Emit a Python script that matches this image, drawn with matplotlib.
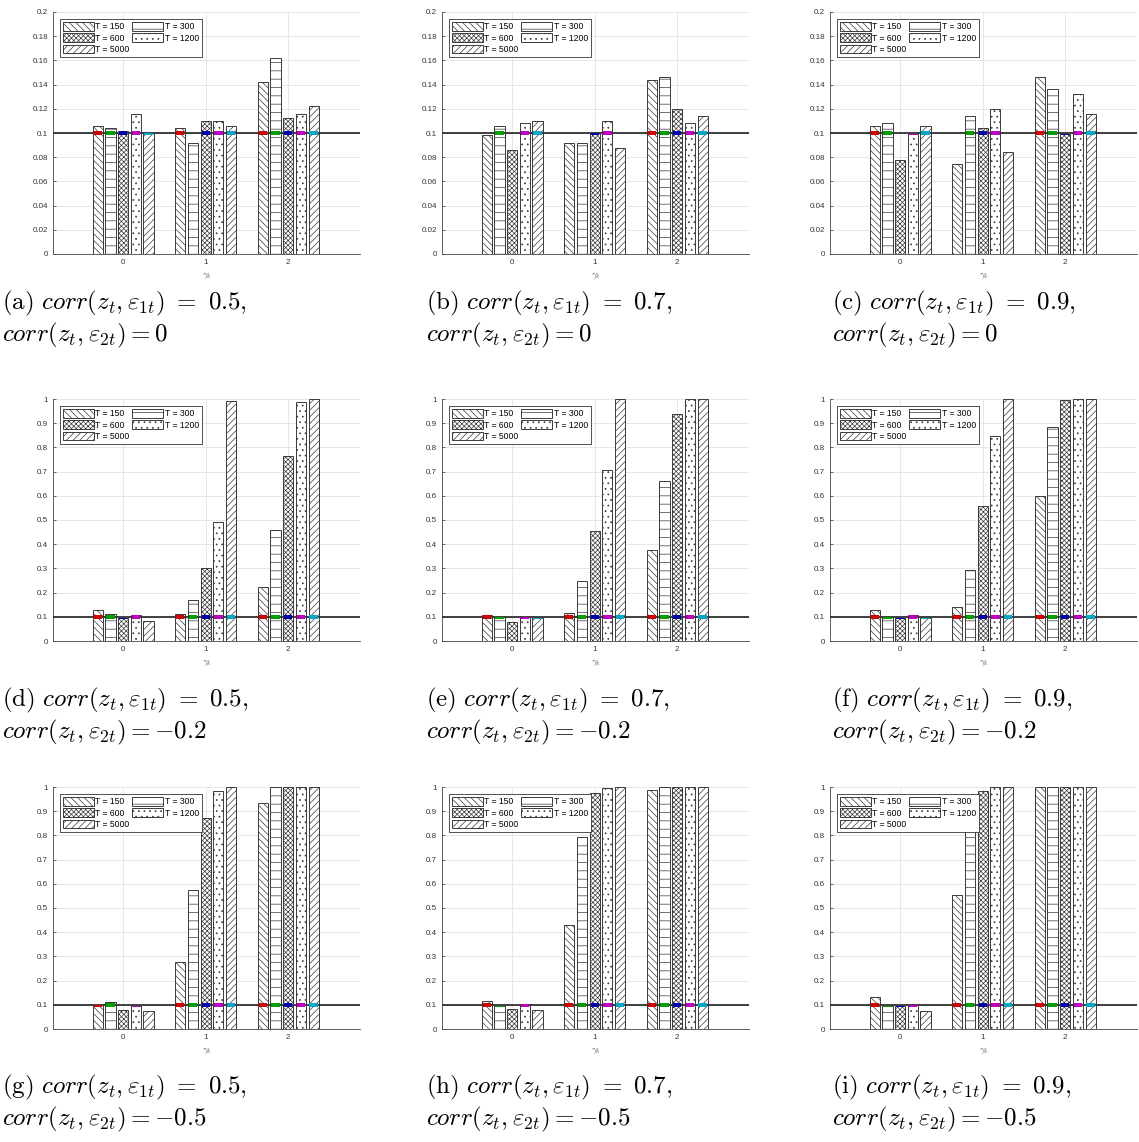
import numpy as np
import matplotlib
matplotlib.use('Agg')
import matplotlib.pyplot as plt

plt.rcParams['mathtext.fontset'] = 'cm'
plt.rcParams['hatch.linewidth'] = 0.5
plt.rcParams['font.family'] = ['Liberation Sans', 'DejaVu Sans']

# ---------------- data ----------------
groups = [0, 1, 2]
series_labels = ['T = 150', 'T = 300', 'T = 600', 'T = 1200', 'T = 5000']
nominal_level = 0.1

# rows = gamma_k groups (0, 1, 2); columns = T = 150, 300, 600, 1200, 5000
panel_a = [[0.106, 0.104, 0.102, 0.116, 0.100],
           [0.104, 0.092, 0.110, 0.110, 0.106],
           [0.142, 0.162, 0.112, 0.116, 0.122]]
panel_b = [[0.098, 0.106, 0.086, 0.108, 0.110],
           [0.092, 0.092, 0.100, 0.110, 0.088],
           [0.144, 0.146, 0.120, 0.108, 0.114]]
panel_c = [[0.106, 0.108, 0.078, 0.0995, 0.106],
           [0.074, 0.114, 0.104, 0.120, 0.084],
           [0.146, 0.136, 0.0995, 0.132, 0.116]]
panel_d = [[0.128, 0.111, 0.095, 0.107, 0.083],
           [0.111, 0.168, 0.300, 0.490, 0.993],
           [0.224, 0.457, 0.765, 0.988, 1.000]]
panel_e = [[0.109, 0.099, 0.080, 0.098, 0.095],
           [0.116, 0.246, 0.454, 0.708, 1.000],
           [0.375, 0.660, 0.937, 1.000, 1.000]]
panel_f = [[0.128, 0.099, 0.094, 0.106, 0.094],
           [0.140, 0.294, 0.557, 0.849, 1.000],
           [0.601, 0.883, 0.996, 1.000, 1.000]]
panel_g = [[0.098, 0.110, 0.079, 0.096, 0.074],
           [0.278, 0.576, 0.870, 0.985, 1.000],
           [0.932, 1.000, 1.000, 1.000, 1.000]]
panel_h = [[0.114, 0.095, 0.083, 0.102, 0.077],
           [0.430, 0.793, 0.974, 0.997, 1.000],
           [0.988, 1.000, 1.000, 1.000, 1.000]]
panel_i = [[0.131, 0.096, 0.094, 0.098, 0.076],
           [0.555, 0.900, 0.982, 1.000, 1.000],
           [1.000, 1.000, 1.000, 1.000, 1.000]]

panels = [panel_a, panel_b, panel_c, panel_d, panel_e, panel_f, panel_g, panel_h, panel_i]
panel_tags = ['(a)', '(b)', '(c)', '(d)', '(e)', '(f)', '(g)', '(h)', '(i)']
corr1_values = ['0.5', '0.7', '0.9', '0.5', '0.7', '0.9', '0.5', '0.7', '0.9']
corr2_values = ['0', '0', '0', '-0.2', '-0.2', '-0.2', '-0.5', '-0.5', '-0.5']
ytick_small = [0, 0.02, 0.04, 0.06, 0.08, 0.1, 0.12, 0.14, 0.16, 0.18, 0.2]
ytick_small_labels = ['0', '0.02', '0.04', '0.06', '0.08', '0.1', '0.12', '0.14', '0.16', '0.18', '0.2']
ytick_large = [0, 0.1, 0.2, 0.3, 0.4, 0.5, 0.6, 0.7, 0.8, 0.9, 1.0]
ytick_large_labels = ['0', '0.1', '0.2', '0.3', '0.4', '0.5', '0.6', '0.7', '0.8', '0.9', '1']

# ---------------- styles ----------------
hatches = ['\\\\\\\\\\', '--', 'xxxxxxx', '...', '/////']
marker_colors = ['#d40000', '#00a000', '#0000b0', '#c000c0', '#00a8c8']
edge = '#3a3a3a'

W, H = 1139, 1142
fig = plt.figure(figsize=(W / 100, H / 100), dpi=100)

col_left = [53, 442, 830]
row_top = [12, 399, 787]
ax_w, ax_h = 307, 242
cap_x = [2, 426, 832]
cap_y = [303, 700, 1087]
line_gap = 32

offsets = [(i - 2) * 0.154 for i in range(5)]
bar_w = 0.123
mark_w = 0.10

for p, vals in enumerate(panels):
    r, c = divmod(p, 3)
    ax = fig.add_axes([col_left[c] / W, 1 - (row_top[r] + ax_h) / H, ax_w / W, ax_h / H])
    data = np.array(vals).T  # series x groups
    ymax = 0.2 if r == 0 else 1.0
    handles = []
    for s in range(5):
        xs = np.array(groups) + offsets[s]
        b = ax.bar(xs, data[s], width=bar_w, facecolor='white', edgecolor=edge,
                   linewidth=0.7, hatch=hatches[s], label=series_labels[s], zorder=2)
        handles.append(b)
    ax.axhline(nominal_level, color='#303030', lw=1.3, zorder=3)
    d = ymax * 0.009
    for s in range(5):
        xs = np.array(groups) + offsets[s]
        lo = nominal_level - d
        hi = np.minimum(nominal_level + d, data[s])
        h = np.clip(hi - lo, 0, None)
        ax.bar(xs, h, bottom=lo, width=mark_w, color=marker_colors[s], linewidth=0, zorder=4)
    ax.set_xlim(-0.85, 2.87)
    ax.set_ylim(0, ymax)
    ax.set_xticks(groups)
    ax.set_xticklabels([str(g) for g in groups])
    if r == 0:
        ax.set_yticks(ytick_small)
        ax.set_yticklabels(ytick_small_labels)
    else:
        ax.set_yticks(ytick_large)
        ax.set_yticklabels(ytick_large_labels)
    ax.tick_params(labelsize=5.8, colors='#333333', length=2, width=0.5, direction='in', pad=3.5)
    ax.grid(True, color='#e3e3e3', lw=0.6, zorder=0)
    ax.set_axisbelow(True)
    for sp in ['top', 'right']:
        ax.spines[sp].set_visible(False)
    for sp in ['left', 'bottom']:
        ax.spines[sp].set_color('#444444')
        ax.spines[sp].set_linewidth(0.6)
    ax.set_xlabel(r'$\gamma_k$', fontsize=6.5, color='#555555', labelpad=4)
    order = [0, 2, 4, 1, 3]
    leg = ax.legend([handles[i] for i in order], [series_labels[i] for i in order],
                    ncol=2, loc='upper left', bbox_to_anchor=(0.022, 0.97), fontsize=6.2,
                    fancybox=False, framealpha=1, edgecolor='#333333', handlelength=3.6,
                    handleheight=1.1, borderpad=0.35, labelspacing=0.25, columnspacing=0.3,
                    handletextpad=0.2, borderaxespad=0)
    leg.get_frame().set_linewidth(0.6)
    leg.set_zorder(10)

    line1 = r'$\mathrm{%s}\ corr(z_t,\varepsilon_{1t})\ =\ %s,$' % (panel_tags[p], corr1_values[p])
    line2 = r'$corr(z_t,\varepsilon_{2t}) = %s$' % corr2_values[p]
    fig.text(cap_x[c] / W, 1 - cap_y[r] / H, line1, fontsize=18, va='center', ha='left')
    fig.text(cap_x[c] / W, 1 - (cap_y[r] + line_gap) / H, line2, fontsize=18, va='center', ha='left')

fig.savefig('out.png', dpi=100)
